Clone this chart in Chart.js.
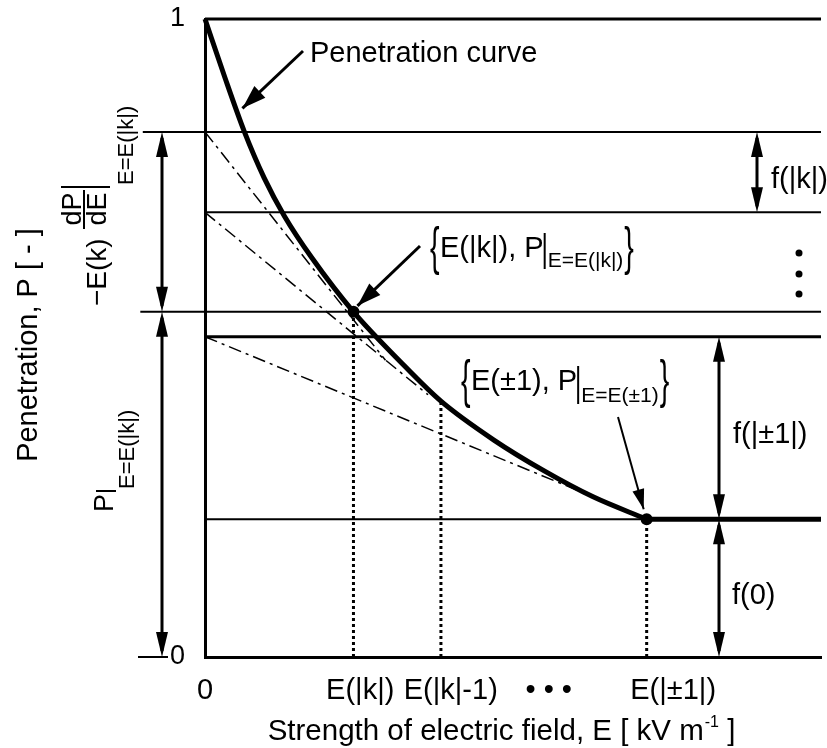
<!DOCTYPE html>
<html>
<head>
<meta charset="utf-8">
<title>Penetration curve</title>
<script src="https://cdn.jsdelivr.net/npm/chart.js@4.4.1/dist/chart.umd.min.js"></script>
<style>
  html, body { margin: 0; padding: 0; background: #fff; }
  #chart { display: block; }
</style>
</head>
<body>
<canvas id="chart" width="827" height="748"></canvas>
<script>
const FONT = "'Liberation Sans', Arial, Helvetica, sans-serif";

// penetration curve P(E); E in arbitrary units, 0..10 across the plot
const curveE = [0, 0.32, 0.64, 0.96, 1.29, 1.74, 2.41, 3.14, 3.83, 4.69, 5.50, 6.30, 7.17];
const curveP = [1.0, 0.909, 0.823, 0.751, 0.691, 0.625, 0.541, 0.466, 0.401, 0.340, 0.292, 0.251, 0.216];
// beyond E(|±1|) the curve stays flat up to the end of the axis
const plateauEndE = 10;

// horizontal reference levels and the E value each one starts from
const levelP = [1.0, 0.823, 0.697, 0.541, 0.502, 0.216];
const levelFromE = [0, -1.01, 0, -1.05, 0, 0];

// tangent lines: intercept on the P axis and the end point on the curve side
const tangentP0 = [0.823, 0.697, 0.502];
const tangentEndE = [2.93, 3.62, 6.03];
const tangentEndP = [0.465, 0.411, 0.262];

// field strengths marked with dotted drop lines: E(|k|), E(|k|-1), E(|±1|)
const markE = [2.41, 3.83, 7.17];
const markP = [0.541, 0.401, 0.216];

// x tick labels
const tickE = [0, 2.52, 3.99, 5.58, 7.60];
const tickText = ['0', 'E(|k|)', 'E(|k|-1)', '\u2022 \u2022 \u2022', 'E(|\u00b11|)'];

const datasets = [];
const lastP = curveP[curveP.length - 1];

datasets.push({
  data: curveE.map((e, i) => ({ x: e, y: curveP[i] })),
  borderColor: '#000', borderWidth: 5, pointRadius: 0,
  cubicInterpolationMode: 'monotone', clip: false
});

datasets.push({
  data: [{ x: curveE[curveE.length - 1], y: lastP }, { x: plateauEndE, y: lastP }],
  borderColor: '#000', borderWidth: 5, pointRadius: 0, clip: false
});

datasets.push({
  data: [0, 2].map(i => ({ x: markE[i], y: markP[i] })),
  showLine: false, pointRadius: 6, pointBorderWidth: 0,
  pointBackgroundColor: '#000', clip: false
});

markE.forEach((e, i) => datasets.push({
  data: [{ x: e, y: 0 }, { x: e, y: markP[i] }],
  borderColor: '#000', borderWidth: 3, borderDash: [3, 3], pointRadius: 0, clip: false
}));

tangentP0.forEach((p, i) => datasets.push({
  data: [{ x: 0, y: p }, { x: tangentEndE[i], y: tangentEndP[i] }],
  borderColor: '#000', borderWidth: 1.5, borderDash: [13, 5, 3, 5], pointRadius: 0, clip: false
}));

levelP.forEach((p, i) => datasets.push({
  data: [{ x: levelFromE[i], y: p }, { x: 10, y: p }],
  borderColor: '#000', borderWidth: (i === 0 || i === 4) ? 3 : 2, pointRadius: 0, clip: false
}));

function seg(ctx, x1, y1, x2, y2, w) {
  ctx.lineWidth = w;
  ctx.beginPath();
  ctx.moveTo(x1, y1);
  ctx.lineTo(x2, y2);
  ctx.stroke();
}

function head(ctx, tx, ty, fx, fy, len, hw) {
  const a = Math.atan2(ty - fy, tx - fx);
  const bx = tx - len * Math.cos(a), by = ty - len * Math.sin(a);
  ctx.beginPath();
  ctx.moveTo(tx, ty);
  ctx.lineTo(bx + hw * Math.sin(a), by - hw * Math.cos(a));
  ctx.lineTo(bx - hw * Math.sin(a), by + hw * Math.cos(a));
  ctx.closePath();
  ctx.fill();
}

// double-headed dimension arrow between two heights
function dim(ctx, x, y1, y2) {
  seg(ctx, x, y1 + 6, x, y2 - 6, 3);
  head(ctx, x, y1, x, y2, 25, 6);
  head(ctx, x, y2, x, y1, 25, 6);
}

function callout(ctx, x1, y1, x2, y2, w, len, hw) {
  seg(ctx, x1, y1, x2, y2, w);
  head(ctx, x2, y2, x1, y1, len, hw);
}

function text(ctx, s, x, y, size, align) {
  ctx.font = size + 'px ' + FONT;
  ctx.textAlign = align || 'left';
  ctx.textBaseline = 'alphabetic';
  ctx.fillText(s, x, y);
  return ctx.measureText(s).width;
}

function vtext(ctx, s, x, y, size, align) {
  ctx.save();
  ctx.translate(x, y);
  ctx.rotate(-Math.PI / 2);
  text(ctx, s, 0, 0, size, align);
  ctx.restore();
}

function brace(ctx, ch, x, y) {
  ctx.save();
  ctx.translate(x, y);
  ctx.scale(0.55, 1);
  text(ctx, ch, 0, 0, 52);
  ctx.restore();
}

// "{E, P|sub}" point label
function pointLabel(ctx, x, base, main, sub, subDrop) {
  brace(ctx, '{', x, base + 7);
  let cx = x + 10;
  cx += text(ctx, main, cx, base, 29);
  seg(ctx, cx + 1, base - 24, cx + 1, base + subDrop + 2, 2);
  cx += 4;
  cx += text(ctx, sub, cx, base + subDrop, 21);
  brace(ctx, '}', cx + 1, base + 7);
}

const annotate = {
  id: 'annotate',
  afterDraw(chart) {
    const { ctx } = chart;
    const X = v => chart.scales.x.getPixelForValue(v);
    const Y = v => chart.scales.y.getPixelForValue(v);
    ctx.save();
    ctx.fillStyle = '#000';
    ctx.strokeStyle = '#000';
    ctx.lineCap = 'butt';

    const yA = Y(levelP[1]), yB = Y(levelP[2]), yK = Y(levelP[3]);
    const yC = Y(levelP[4]), yD = Y(levelP[5]), y0 = Y(0);

    // dimension arrows left of the axis
    dim(ctx, 162, yA, yK);
    dim(ctx, 162, yK, y0);
    seg(ctx, 138, y0, 168, y0, 2);

    // dimension arrows on the right
    dim(ctx, 757, yA, yB);
    dim(ctx, 719, yC, yD);
    dim(ctx, 719, yD, y0);
    text(ctx, 'f(|k|)', 771, 188, 29);
    text(ctx, 'f(|\u00b11|)', 733, 443, 29);
    text(ctx, 'f(0)', 732, 604, 29);

    // vertical ellipsis between the f(|k|) and f(|±1|) bands
    [253, 274, 294].forEach(yy => {
      ctx.beginPath();
      ctx.arc(799, yy, 3.5, 0, Math.PI * 2);
      ctx.fill();
    });

    // callouts
    callout(ctx, 303, 51, X(curveE[2]) - 2, Y(0.86), 3, 24, 8);
    text(ctx, 'Penetration curve', 310, 62, 29);

    callout(ctx, 420, 246, X(markE[0]) + 4, Y(markP[0]) - 6, 3, 24, 8);
    pointLabel(ctx, 430, 257, 'E(|k|), P', 'E=E(|k|)', 10);

    callout(ctx, 618, 417, X(markE[2]) - 3, Y(markP[2]) - 10, 2, 20, 6);
    pointLabel(ctx, 461, 390, 'E(\u00b11), P', 'E=E(\u00b11)', 12);

    // rotated labels beside the P axis
    vtext(ctx, 'Penetration, P [ - ]', 37, 345, 29, 'center');

    vtext(ctx, '\u2212E(k)', 106, 306, 28);
    vtext(ctx, 'dP', 81, 209, 27, 'center');
    seg(ctx, 84, 190, 84, 229, 2);
    vtext(ctx, 'dE', 106, 209, 27, 'center');
    seg(ctx, 61, 187, 110, 187, 2);
    vtext(ctx, 'E=E(|k|)', 133, 185, 22);

    vtext(ctx, 'P', 113, 512, 27);
    seg(ctx, 96, 491, 116, 491, 2);
    vtext(ctx, 'E=E(|k|)', 134, 489, 22);

    // x axis title with superscript unit
    ctx.font = '29.5px ' + FONT;
    const a = 'Strength of electric field, E [ kV m', c = ' ]';
    const wa = ctx.measureText(a).width, wc = ctx.measureText(c).width;
    ctx.font = '16px ' + FONT;
    const wb = ctx.measureText('-1').width;
    let sx = 502 - (wa + wb + wc + 2) / 2;
    sx += text(ctx, a, sx, 740, 29.5);
    sx += text(ctx, '-1', sx + 1, 727, 16) + 1;
    text(ctx, c, sx, 740, 29.5);

    ctx.restore();
  }
};

new Chart(document.getElementById('chart'), {
  type: 'line',
  data: { datasets },
  plugins: [annotate],
  options: {
    responsive: false,
    animation: false,
    devicePixelRatio: 1,
    layout: { padding: { top: 19, right: 0, bottom: 0, left: 0 } },
    plugins: { legend: { display: false }, tooltip: { enabled: false } },
    scales: {
      x: {
        type: 'linear', min: 0, max: 10,
        grid: { display: false },
        border: { display: true, color: '#000', width: 3 },
        afterBuildTicks: s => { s.ticks = tickE.map(v => ({ value: v })); },
        afterFit: s => { s.height = 91; s.paddingLeft = 0; s.paddingRight = 0; },
        ticks: {
          autoSkip: false, maxRotation: 0, padding: 9, color: '#000',
          font: { family: FONT, size: 29 },
          callback: (v, i) => tickText[i]
        }
      },
      y: {
        min: 0, max: 1,
        grid: { display: false },
        border: { display: true, color: '#000', width: 3 },
        afterFit: s => { s.width = 205; s.paddingTop = 0; s.paddingBottom = 0; },
        ticks: { stepSize: 1, padding: 12, color: '#000', font: { family: FONT, size: 27 } }
      }
    }
  }
});
</script>
</body>
</html>
